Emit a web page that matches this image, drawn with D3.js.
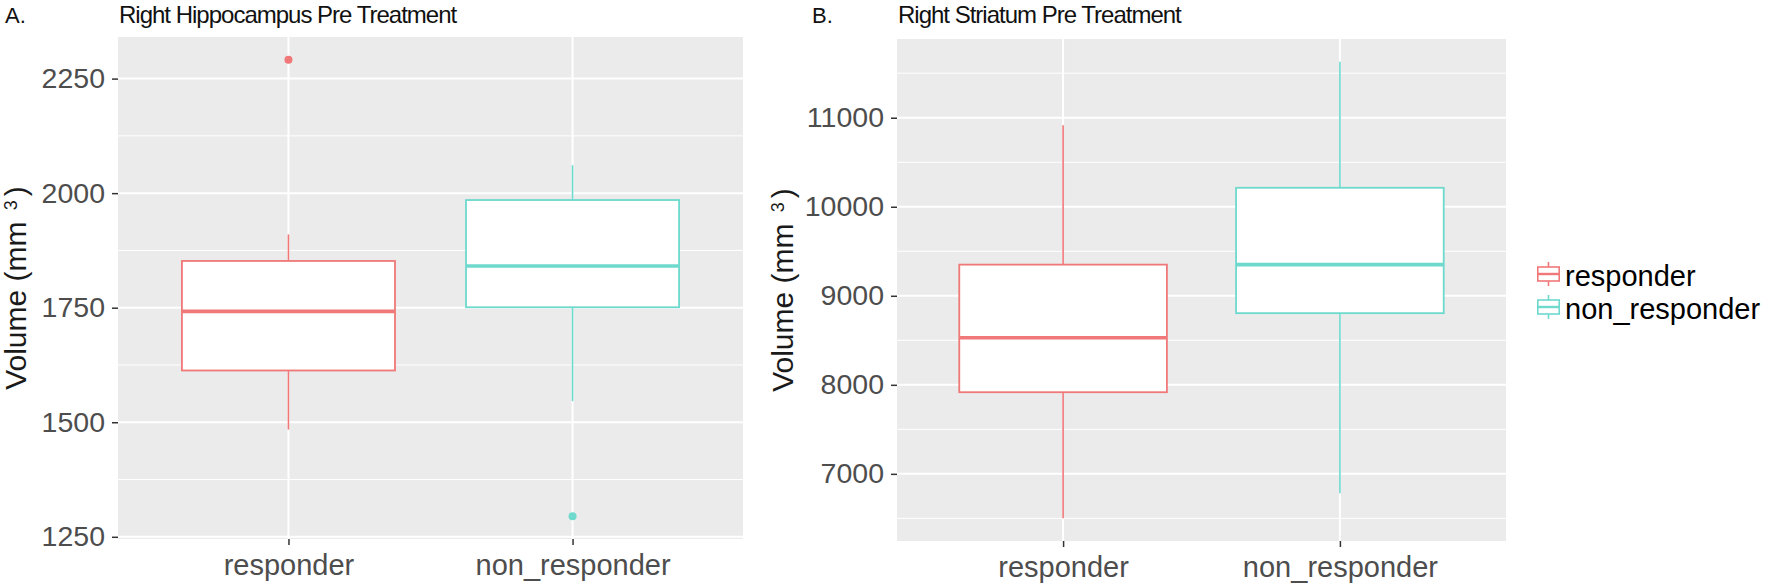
<!DOCTYPE html>
<html lang="en">
<head>
    <meta charset="UTF-8">
    <title>Right Hippocampus / Right Striatum Pre Treatment</title>
    <script src="https://cdn.jsdelivr.net/npm/d3@7/dist/d3.min.js"></script>
    <style>
        body { margin: 0; background: #fff; }
        text { font-family: "Liberation Sans", Arial, sans-serif; }
    </style>
</head>
<body>
    <script>
        // groups and colours
        var groups = ["responder", "non_responder"];
        var groupColors = ["#F07878", "#6ED9CD"];

        // Right Hippocampus (mm^3)
        var hippoLow = [1484, 1546];
        var hippoQ1 = [1613, 1751];
        var hippoMedian = [1742, 1841];
        var hippoQ3 = [1852, 1985];
        var hippoHigh = [1910, 2061];
        var hippoOutliers = [[2291], [1295]];
        var hippoTicks = [1250, 1500, 1750, 2000, 2250];

        // Right Striatum (mm^3)
        var striLow = [6502, 6782];
        var striQ1 = [7917, 8805];
        var striMedian = [8529, 9350];
        var striQ3 = [9350, 10213];
        var striHigh = [10916, 11628];
        var striOutliers = [[], []];
        var striTicks = [7000, 8000, 9000, 10000, 11000];

        var width = 1772;
        var height = 583;
        var svg = d3.select("body").append("svg")
            .attr("width", width)
            .attr("height", height);

        svg.append("rect").attr("width", width).attr("height", height).attr("fill", "#fff");

        function drawPanel(p) {
            var g = svg.append("g");

            // y domain like ggplot: data range + 5% on each side
            var all = p.low.concat(p.high, d3.merge(p.outliers));
            var lo = d3.min(all), hi = d3.max(all);
            var pad = (hi - lo) * 0.05;
            var y = d3.scaleLinear().domain([lo - pad, hi + pad]).range([p.bottom, p.top]);
            var x = d3.scalePoint().domain(groups).range([p.left, p.right]).padding(0.6);
            var boxW = x.step() * 0.75;

            // panel background
            g.append("rect")
                .attr("x", p.left).attr("y", p.top)
                .attr("width", p.right - p.left).attr("height", p.bottom - p.top)
                .attr("fill", "#EBEBEB");

            // minor grid lines half way between the ticks
            var minor = [];
            var stepT = p.ticks[1] - p.ticks[0];
            for (var t = p.ticks[0] - stepT / 2; t <= hi + pad; t += stepT) {
                if (t >= lo - pad) minor.push(t);
            }
            g.selectAll(".minor").data(minor).enter().append("line")
                .attr("x1", p.left).attr("x2", p.right)
                .attr("y1", function(d) { return y(d); })
                .attr("y2", function(d) { return y(d); })
                .attr("stroke", "#fff").attr("stroke-width", 1);

            g.selectAll(".major").data(p.ticks).enter().append("line")
                .attr("x1", p.left).attr("x2", p.right)
                .attr("y1", function(d) { return y(d); })
                .attr("y2", function(d) { return y(d); })
                .attr("stroke", "#fff").attr("stroke-width", 2);

            g.selectAll(".vgrid").data(groups).enter().append("line")
                .attr("x1", function(d) { return x(d); })
                .attr("x2", function(d) { return x(d); })
                .attr("y1", p.top).attr("y2", p.bottom)
                .attr("stroke", "#fff").attr("stroke-width", 2);

            // whiskers
            var idx = d3.range(groups.length);
            g.selectAll(".whiskUp").data(idx).enter().append("line")
                .attr("x1", function(i) { return x(groups[i]); })
                .attr("x2", function(i) { return x(groups[i]); })
                .attr("y1", function(i) { return y(p.q3[i]); })
                .attr("y2", function(i) { return y(p.high[i]); })
                .attr("stroke", function(i) { return groupColors[i]; })
                .attr("stroke-width", 1.6);
            g.selectAll(".whiskDown").data(idx).enter().append("line")
                .attr("x1", function(i) { return x(groups[i]); })
                .attr("x2", function(i) { return x(groups[i]); })
                .attr("y1", function(i) { return y(p.q1[i]); })
                .attr("y2", function(i) { return y(p.low[i]); })
                .attr("stroke", function(i) { return groupColors[i]; })
                .attr("stroke-width", 1.6);

            // boxes
            g.selectAll(".box").data(idx).enter().append("rect")
                .attr("x", function(i) { return x(groups[i]) - boxW / 2; })
                .attr("y", function(i) { return y(p.q3[i]); })
                .attr("width", boxW)
                .attr("height", function(i) { return y(p.q1[i]) - y(p.q3[i]); })
                .attr("fill", "#fff")
                .attr("stroke", function(i) { return groupColors[i]; })
                .attr("stroke-width", 1.8);

            // medians
            g.selectAll(".med").data(idx).enter().append("line")
                .attr("x1", function(i) { return x(groups[i]) - boxW / 2; })
                .attr("x2", function(i) { return x(groups[i]) + boxW / 2; })
                .attr("y1", function(i) { return y(p.median[i]); })
                .attr("y2", function(i) { return y(p.median[i]); })
                .attr("stroke", function(i) { return groupColors[i]; })
                .attr("stroke-width", 3.6);

            // outliers
            idx.forEach(function(i) {
                g.selectAll(".out" + i).data(p.outliers[i]).enter().append("circle")
                    .attr("cx", x(groups[i]))
                    .attr("cy", function(d) { return y(d); })
                    .attr("r", 4)
                    .attr("fill", groupColors[i]);
            });

            // axes
            var yAxis = g.append("g")
                .attr("transform", "translate(" + p.left + ",0)")
                .call(d3.axisLeft(y).tickValues(p.ticks).tickFormat(d3.format("d"))
                    .tickSize(6).tickPadding(7));
            var xAxis = g.append("g")
                .attr("transform", "translate(0," + p.bottom + ")")
                .call(d3.axisBottom(x).tickSize(6).tickPadding(5));
            [yAxis, xAxis].forEach(function(a) {
                a.select(".domain").remove();
                a.selectAll(".tick line").attr("stroke", "#333").attr("stroke-width", 1.5);
                a.selectAll(".tick text")
                    .attr("fill", "#4D4D4D")
                    .style("font-family", "'Liberation Sans', Arial, sans-serif");
            });
            yAxis.selectAll(".tick text").style("font-size", "28.5px");
            xAxis.selectAll(".tick text").style("font-size", "29px").attr("dy", "0.85em");

            // y axis title with superscript
            var yt = g.append("text")
                .attr("transform", "translate(" + p.ytitleX + "," + ((p.top + p.bottom) / 2) + ") rotate(-90)")
                .attr("text-anchor", "middle")
                .attr("fill", "#1a1a1a")
                .style("font-size", "30px");
            yt.append("tspan").text("Volume (mm ");
            yt.append("tspan").text("3").attr("dy", "-9").attr("dx", "3").style("font-size", "18px");
            yt.append("tspan").text(")").attr("dy", "9").attr("dx", "4");

            // panel tag and title
            g.append("text").attr("x", p.tagX).attr("y", 23)
                .attr("fill", "#111").style("font-size", "22px").text(p.tag);
            g.append("text").attr("x", p.left + 1).attr("y", 23)
                .attr("fill", "#111").style("font-size", "24px")
                .style("letter-spacing", "-1px").text(p.title);
        }

        drawPanel({
            tag: "A.", tagX: 5, title: "Right Hippocampus Pre Treatment",
            left: 118, right: 743, top: 37, bottom: 539, ytitleX: 26,
            low: hippoLow, q1: hippoQ1, median: hippoMedian, q3: hippoQ3, high: hippoHigh,
            outliers: hippoOutliers, ticks: hippoTicks
        });

        drawPanel({
            tag: "B.", tagX: 812, title: "Right Striatum Pre Treatment",
            left: 897, right: 1506, top: 39, bottom: 541, ytitleX: 793,
            low: striLow, q1: striQ1, median: striMedian, q3: striQ3, high: striHigh,
            outliers: striOutliers, ticks: striTicks
        });

        // legend: small boxplot keys
        var legend = svg.append("g").attr("transform", "translate(1537,0)");
        var keyCenters = [274, 307];
        var keyH = 24, keyW = 23;
        groups.forEach(function(name, i) {
            var cy = keyCenters[i];
            var k = legend.append("g");
            k.append("rect").attr("x", 0).attr("y", cy - keyH / 2)
                .attr("width", keyW).attr("height", keyH).attr("fill", "#fff");
            k.append("line").attr("x1", keyW / 2).attr("x2", keyW / 2)
                .attr("y1", cy - keyH / 2).attr("y2", cy + keyH / 2)
                .attr("stroke", groupColors[i]).attr("stroke-width", 1.6);
            k.append("rect").attr("x", 0.8).attr("y", cy - keyH / 2 + 5)
                .attr("width", keyW - 1.6).attr("height", keyH - 10)
                .attr("fill", "#fff").attr("stroke", groupColors[i]).attr("stroke-width", 1.6);
            k.append("line").attr("x1", 0.8).attr("x2", keyW - 0.8)
                .attr("y1", cy).attr("y2", cy)
                .attr("stroke", groupColors[i]).attr("stroke-width", 2.4);
            legend.append("text")
                .attr("x", keyW + 5).attr("y", cy + 12)
                .attr("fill", "#000").style("font-size", "29px")
                .text(name);
        });
    </script>
</body>
</html>
